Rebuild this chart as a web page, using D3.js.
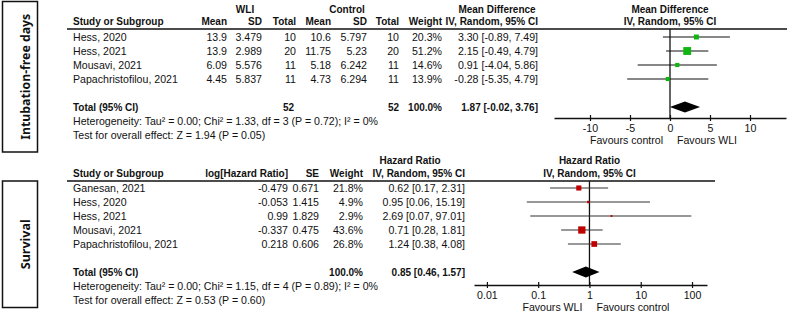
<!DOCTYPE html>
<html>
<head>
<meta charset="utf-8">
<script src="https://cdn.jsdelivr.net/npm/d3@7"></script>
<style>
  body { margin: 0; background: #fff; }
  text { font-family: "Liberation Sans", Arial, sans-serif; font-size: 10.6px; fill: #111; }
  .b { font-weight: bold; font-size: 10px; }
  .side { font-family: "Noto Sans", sans-serif; font-weight: bold; font-size: 13px; }
</style>
</head>
<body>
<svg id="chart" width="795" height="315"></svg>
<script>
  // Data - intubation-free days (mean difference)
  const studiesMD = ["Hess, 2020", "Hess, 2021", "Mousavi, 2021", "Papachristofilou, 2021"]
  const wliMean = ["13.9", "13.9", "6.09", "4.45"]
  const wliSD = ["3.479", "2.989", "5.576", "5.837"]
  const wliTotal = [10, 20, 11, 11]
  const ctrlMean = ["10.6", "11.75", "5.18", "4.73"]
  const ctrlSD = ["5.797", "5.23", "6.242", "6.294"]
  const ctrlTotal = [10, 20, 11, 11]
  const weightMD = [20.3, 51.2, 14.6, 13.9]
  const md = [3.30, 2.15, 0.91, -0.28]
  const mdLow = [-0.89, -0.49, -4.04, -5.35]
  const mdHigh = [7.49, 4.79, 5.86, 4.79]
  const totalMD = [1.87, -0.02, 3.76]
  const ticksMD = [-10, -5, 0, 5, 10]

  // Data - survival (hazard ratio)
  const studiesHR = ["Ganesan, 2021", "Hess, 2020", "Hess, 2021", "Mousavi, 2021", "Papachristofilou, 2021"]
  const logHR = ["-0.479", "-0.053", "0.99", "-0.337", "0.218"]
  const seHR = ["0.671", "1.415", "1.829", "0.475", "0.606"]
  const weightHR = [21.8, 4.9, 2.9, 43.6, 26.8]
  const hr = [0.62, 0.95, 2.69, 0.71, 1.24]
  const hrLow = [0.17, 0.06, 0.07, 0.28, 0.38]
  const hrHigh = [2.31, 15.19, 97.01, 1.81, 4.08]
  const totalHR = [0.85, 0.46, 1.57]
  const ticksHR = [0.01, 0.1, 1, 10, 100]

  const f2 = d3.format(".2f")
  const num = d => f2(d).replace("−", "-")
  const pct = d => d3.format(".1f")(d) + "%"
  const ci = (e, lo, hi) => `${num(e)} [${num(lo)}, ${num(hi)}]`

  const svg = d3.select("#chart")

  //Scales
  const rowTop = d3.scaleLinear().domain([0, 1]).range([37, 51])
  const rowBot = d3.scaleLinear().domain([0, 1]).range([188, 202])
  const xMD = d3.scaleLinear().domain([-14.5, 14.5]).range([554, 786])
  const xHR = d3.scaleLog().domain([0.0056, 196]).range([474, 707])
  const boxSize = d3.scaleSqrt().domain([0, 100]).range([0, 11])

  //Helpers
  function txt(x, y, s, anchor = "end", bold = false) {
    return svg.append("text")
      .attr("x", x)
      .attr("y", y)
      .attr("dy", "0.35em")
      .attr("text-anchor", anchor)
      .attr("class", bold ? "b" : null)
      .text(s)
  }
  function hline(x1, x2, y) {
    svg.append("line")
      .attr("x1", x1).attr("x2", x2)
      .attr("y1", y).attr("y2", y)
      .attr("stroke", "#111")
      .attr("stroke-width", 1.3)
  }
  function sideLabel(y0, y1, label, len) {
    svg.append("rect")
      .attr("x", 2.5).attr("y", y0)
      .attr("width", 35).attr("height", y1 - y0)
      .attr("fill", "none")
      .attr("stroke", "#111")
      .attr("stroke-width", 1.5)
    svg.append("text")
      .attr("class", "side")
      .attr("transform", `translate(29.5,${(y0 + y1) / 2}) rotate(-90)`)
      .attr("text-anchor", "middle")
      .attr("textLength", len)
      .attr("lengthAdjust", "spacingAndGlyphs")
      .text(label)
  }
  function drawAxis(scale, y, ticks, fmt) {
    const g = svg.append("g")
      .attr("transform", `translate(0,${y})`)
      .call(d3.axisBottom(scale)
        .tickValues(ticks)
        .tickFormat(fmt)
        .tickSizeInner(3)
        .tickSizeOuter(0)
        .tickPadding(3))
    g.attr("font-size", null).attr("font-family", null)
    g.select(".domain").attr("stroke", "#111").attr("stroke-width", 1.3)
    g.selectAll(".tick line").attr("y1", -3).attr("stroke", "#111").attr("stroke-width", 1.2)
    return g
  }
  function diamond(scale, vals, y) {
    const [e, lo, hi] = vals
    svg.append("path")
      .attr("d", `M${scale(lo)},${y}L${scale(e)},${y - 5.5}L${scale(hi)},${y}L${scale(e)},${y + 5.5}Z`)
      .attr("fill", "#000")
  }

  //Side labels
  sideLabel(1.5, 152, "Intubation-free days", 126)
  sideLabel(181, 307.5, "Survival", 50)

  //Top table
  const colMD = [73, 227, 262, 296, 331, 367, 399, 442, 538]
  txt(245, rowTop(-2), "WLI", "middle", true)
  txt(347, rowTop(-2), "Control", "middle", true)
  txt(497, rowTop(-2), "Mean Difference", "middle", true)
  txt(xMD(0), rowTop(-2), "Mean Difference", "middle", true)
  const headMD = ["Study or Subgroup", "Mean", "SD", "Total", "Mean", "SD", "Total", "Weight", "IV, Random, 95% CI"]
  headMD.forEach((h, i) => txt(colMD[i], rowTop(-1.1), h, i == 0 ? "start" : "end", true))
  txt(xMD(0), rowTop(-1.1), "IV, Random, 95% CI", "middle", true)
  hline(67, 787, rowTop(-0.57))

  studiesMD.forEach((s, i) => {
    const cells = [s, wliMean[i], wliSD[i], wliTotal[i], ctrlMean[i], ctrlSD[i], ctrlTotal[i],
      pct(weightMD[i]), ci(md[i], mdLow[i], mdHigh[i])]
    cells.forEach((c, j) => txt(colMD[j], rowTop(i), c, j == 0 ? "start" : "end"))
  })
  txt(colMD[0], rowTop(5), "Total (95% CI)", "start", true)
  txt(colMD[3] - 2, rowTop(5), d3.sum(wliTotal), "end", true)
  txt(colMD[6], rowTop(5), d3.sum(ctrlTotal), "end", true)
  txt(colMD[7], rowTop(5), pct(100), "end", true)
  txt(colMD[8], rowTop(5), ci(...totalMD), "end", true)
  txt(colMD[0], rowTop(6), "Heterogeneity: Tau² = 0.00; Chi² = 1.33, df = 3 (P = 0.72); I² = 0%", "start")
  txt(colMD[0], rowTop(7), "Test for overall effect: Z = 1.94 (P = 0.05)", "start")

  //Top forest plot
  const axisMDy = 118
  svg.append("line")
    .attr("x1", xMD(0)).attr("x2", xMD(0))
    .attr("y1", rowTop(-0.57)).attr("y2", axisMDy)
    .attr("stroke", "#111").attr("stroke-width", 1.3)
  const dataMD = md.map((d, i) => ({ est: d, lo: mdLow[i], hi: mdHigh[i], w: weightMD[i], i }))
  svg.selectAll(".ciMD").data(dataMD).join("line")
    .attr("x1", d => xMD(d.lo)).attr("x2", d => xMD(d.hi))
    .attr("y1", d => rowTop(d.i)).attr("y2", d => rowTop(d.i))
    .attr("stroke", "#111").attr("stroke-width", 1.2)
  svg.selectAll(".sqMD").data(dataMD).join("rect")
    .attr("x", d => xMD(d.est) - boxSize(d.w) / 2)
    .attr("y", d => rowTop(d.i) - boxSize(d.w) / 2)
    .attr("width", d => boxSize(d.w))
    .attr("height", d => boxSize(d.w))
    .attr("fill", "#11b511")
  diamond(xMD, totalMD, rowTop(5))
  drawAxis(xMD, axisMDy, ticksMD, d => String(d))
  txt(xMD(0) - 7, axisMDy + 22, "Favours control", "end")
  txt(xMD(0) + 7, axisMDy + 22, "Favours WLI", "start")

  //Bottom table
  const colHR = [73, 288, 319, 363, 465]
  txt(410, rowBot(-2), "Hazard Ratio", "middle", true)
  txt(xHR(1), rowBot(-2), "Hazard Ratio", "middle", true)
  const headHR = ["Study or Subgroup", "log[Hazard Ratio]", "SE", "Weight", "IV, Random, 95% CI"]
  headHR.forEach((h, i) => txt(colHR[i], rowBot(-1.05), h, i == 0 ? "start" : "end", true))
  txt(xHR(1), rowBot(-1.05), "IV, Random, 95% CI", "middle", true)
  hline(67, 715, rowBot(-0.5))

  studiesHR.forEach((s, i) => {
    const cells = [s, logHR[i], seHR[i], pct(weightHR[i]), ci(hr[i], hrLow[i], hrHigh[i])]
    cells.forEach((c, j) => txt(colHR[j], rowBot(i), c, j == 0 ? "start" : "end"))
  })
  txt(colHR[0], rowBot(6), "Total (95% CI)", "start", true)
  txt(colHR[3], rowBot(6), pct(100), "end", true)
  txt(colHR[4], rowBot(6), ci(...totalHR), "end", true)
  txt(colHR[0], rowBot(7), "Heterogeneity: Tau² = 0.00; Chi² = 1.15, df = 4 (P = 0.89); I² = 0%", "start")
  txt(colHR[0], rowBot(8), "Test for overall effect: Z = 0.53 (P = 0.60)", "start")

  //Bottom forest plot
  const axisHRy = 285
  svg.append("line")
    .attr("x1", xHR(1)).attr("x2", xHR(1))
    .attr("y1", rowBot(-0.5)).attr("y2", axisHRy)
    .attr("stroke", "#111").attr("stroke-width", 1.3)
  const dataHR = hr.map((d, i) => ({ est: d, lo: hrLow[i], hi: hrHigh[i], w: weightHR[i], i }))
  svg.selectAll(".ciHR").data(dataHR).join("line")
    .attr("x1", d => xHR(d.lo)).attr("x2", d => xHR(d.hi))
    .attr("y1", d => rowBot(d.i)).attr("y2", d => rowBot(d.i))
    .attr("stroke", "#333").attr("stroke-width", 1.2)
  svg.selectAll(".sqHR").data(dataHR).join("rect")
    .attr("x", d => xHR(d.est) - boxSize(d.w) / 2)
    .attr("y", d => rowBot(d.i) - boxSize(d.w) / 2)
    .attr("width", d => boxSize(d.w))
    .attr("height", d => boxSize(d.w))
    .attr("fill", "#c00000")
  diamond(xHR, totalHR, rowBot(6))
  drawAxis(xHR, axisHRy, ticksHR, d => d3.format("~g")(d))
  txt(xHR(1) - 7, axisHRy + 22, "Favours WLI", "end")
  txt(xHR(1) + 7, axisHRy + 22, "Favours control", "start")
</script>
</body>
</html>
